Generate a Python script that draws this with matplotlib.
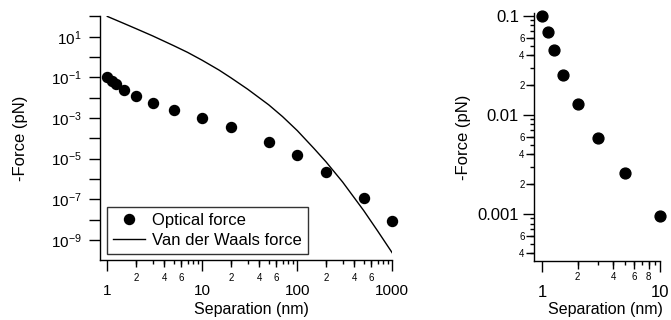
import matplotlib
matplotlib.use('Agg')
import matplotlib.pyplot as plt
from matplotlib.ticker import FixedLocator, NullFormatter, NullLocator

plt.rcParams['font.family'] = ['Liberation Sans', 'DejaVu Sans']
plt.rcParams['mathtext.fontset'] = 'custom'
plt.rcParams['mathtext.rm'] = 'Liberation Sans'
plt.rcParams['mathtext.it'] = 'Liberation Sans:italic'
plt.rcParams['axes.linewidth'] = 1.0

# data
separation = [1, 1.12, 1.25, 1.5, 2, 3, 5, 10, 20, 50, 100, 200, 500, 1000]
optical_force = [0.1, 0.068, 0.045, 0.025, 0.0128, 0.0058, 0.0026, 0.00095,
                 3.6e-4, 6.9e-5, 1.6e-5, 2.2e-6, 1.1e-7, 8.7e-9]

vdw_separation = [1, 1.5, 2, 3, 5, 7, 10, 15, 20, 30, 50, 70, 100, 150, 200, 300, 500, 700, 1000]
vdw_force = [100, 44.7, 25.1, 11.0, 3.63, 1.70, 0.69, 0.229, 0.0955, 0.0263, 0.00447,
             0.00117, 2.4e-4, 3.16e-5, 7.1e-6, 7.1e-7, 2.8e-8, 2.8e-9, 2.3e-10]

# tick values / labels
left_xmajor = [1, 10, 100, 1000]
left_xmajor_labels = ['1', '10', '100', '1000']
left_xminor_labeled = [2, 4, 6, 20, 40, 60, 200, 400, 600]
left_xminor_labels = ['2', '4', '6', '2', '4', '6', '2', '4', '6']
left_ymajor = [1e-9, 1e-7, 1e-5, 1e-3, 1e-1, 1e1]
left_ymajor_labels = [r'$\mathregular{10^{-9}}$', r'$\mathregular{10^{-7}}$', r'$\mathregular{10^{-5}}$',
                      r'$\mathregular{10^{-3}}$', r'$\mathregular{10^{-1}}$', r'$\mathregular{10^{1}}$']
left_yminor = [1e-8, 1e-6, 1e-4, 1e-2, 1e0, 1e2]

right_xmajor = [1, 10]
right_xmajor_labels = ['1', '10']
right_xminor_labeled = [2, 4, 6, 8]
right_xminor_labels = ['2', '4', '6', '8']
right_ymajor = [0.001, 0.01, 0.1]
right_ymajor_labels = ['0.001', '0.01', '0.1']
right_yminor_labeled = [4e-4, 6e-4, 2e-3, 4e-3, 6e-3, 0.02, 0.04, 0.06]
right_yminor_labels = ['4', '6', '2', '4', '6', '2', '4', '6']

def decade_minors(decades):
    out = []
    for d in decades:
        for k in range(2, 10):
            out.append(k * d)
    return out

fig = plt.figure(figsize=(6.71, 3.2), dpi=100)

# ---------------- left panel ----------------
ax1 = fig.add_axes([100 / 671, 1 - 260.3 / 320, 292.3 / 671, 243.9 / 320])
ax1.set_xscale('log')
ax1.set_yscale('log')
ax1.plot(separation, optical_force, 'o', color='black', ms=7.2, clip_on=False,
         label='Optical force')
ax1.plot(vdw_separation, vdw_force, '-', color='black', lw=1.0, label='Van der Waals force')
ax1.set_xlim(0.838, 1000)
ax1.set_ylim(1e-10, 1e2)
for s in ['top', 'right']:
    ax1.spines[s].set_visible(False)

ax1.xaxis.set_major_locator(FixedLocator(left_xmajor))
ax1.set_xticklabels(left_xmajor_labels)
ax1.xaxis.set_minor_locator(FixedLocator(decade_minors([1, 10, 100])))
ax1.xaxis.set_minor_formatter(NullFormatter())
ax1.tick_params(axis='x', which='major', direction='out', length=8, width=1, labelsize=11, pad=9)
ax1.tick_params(axis='x', which='minor', direction='out', length=3, width=1)

ax1.yaxis.set_major_locator(FixedLocator(left_ymajor))
ax1.set_yticklabels(left_ymajor_labels)
ax1.yaxis.set_minor_locator(FixedLocator(left_yminor))
ax1.yaxis.set_minor_formatter(NullFormatter())
ax1.tick_params(axis='y', which='major', direction='out', length=8, width=1, labelsize=11, pad=5)
ax1.tick_params(axis='y', which='minor', direction='out', length=8, width=1)

sec1 = ax1.secondary_xaxis('bottom')
sec1.set_xticks(left_xminor_labeled, labels=left_xminor_labels)
sec1.xaxis.set_minor_locator(NullLocator())
sec1.tick_params(axis='x', direction='out', length=5, width=1, labelsize=7, pad=4)
sec1.spines['bottom'].set_visible(False)

ax1.set_xlabel('Separation (nm)', fontsize=11.5)
ax1.xaxis.set_label_coords(0.517, -0.172)
ax1.xaxis.label.set_va('top')
ax1.set_ylabel('-Force (pN)', fontsize=12)
ax1.yaxis.set_label_coords(-0.245, 0.5)

leg = ax1.legend(loc='lower left', bbox_to_anchor=(0.023, 0.026), borderaxespad=0,
                 fontsize=12, frameon=True, fancybox=False, numpoints=1,
                 handlelength=1.9, handletextpad=0.45, borderpad=0.38, labelspacing=0.28)
leg.get_frame().set_edgecolor('black')
leg.get_frame().set_linewidth(1.0)

# ---------------- right panel ----------------
ax2 = fig.add_axes([534.3 / 671, 1 - 261 / 320, 125.7 / 671, 248 / 320])
ax2.set_xscale('log')
ax2.set_yscale('log')
sub_x = [x for x in separation if x <= 10]
sub_y = [y for x, y in zip(separation, optical_force) if x <= 10]
ax2.plot(sub_x, sub_y, 'o', color='black', ms=7.8, clip_on=False)
ax2.set_xlim(0.855, 10)
ax2.set_ylim(3.35e-4, 0.1065)
for s in ['top', 'right']:
    ax2.spines[s].set_visible(False)

ax2.xaxis.set_major_locator(FixedLocator(right_xmajor))
ax2.set_xticklabels(right_xmajor_labels)
ax2.xaxis.set_minor_locator(FixedLocator(decade_minors([1])))
ax2.xaxis.set_minor_formatter(NullFormatter())
ax2.tick_params(axis='x', which='major', direction='out', length=8, width=1, labelsize=12, pad=9)
ax2.tick_params(axis='x', which='minor', direction='out', length=3, width=1)

ax2.yaxis.set_major_locator(FixedLocator(right_ymajor))
ax2.set_yticklabels(right_ymajor_labels)
ax2.yaxis.set_minor_locator(FixedLocator([v for v in decade_minors([1e-4, 1e-3, 1e-2]) if v >= 3.3e-4]))
ax2.yaxis.set_minor_formatter(NullFormatter())
ax2.tick_params(axis='y', which='major', direction='out', length=8, width=1, labelsize=12, pad=3)
ax2.tick_params(axis='y', which='minor', direction='out', length=3, width=1)

sec2x = ax2.secondary_xaxis('bottom')
sec2x.set_xticks(right_xminor_labeled, labels=right_xminor_labels)
sec2x.xaxis.set_minor_locator(NullLocator())
sec2x.tick_params(axis='x', direction='out', length=6, width=1, labelsize=7, pad=2)
sec2x.spines['bottom'].set_visible(False)

sec2y = ax2.secondary_yaxis('left')
sec2y.set_yticks(right_yminor_labeled, labels=right_yminor_labels)
sec2y.yaxis.set_minor_locator(NullLocator())
sec2y.tick_params(axis='y', direction='out', length=5.5, width=1, labelsize=7, pad=1.5)
sec2y.spines['left'].set_visible(False)

ax2.set_xlabel('Separation (nm)', fontsize=11.5)
ax2.xaxis.set_label_coords(0.562, -0.166)
ax2.xaxis.label.set_va('top')
ax2.set_ylabel('-Force (pN)', fontsize=12)
ax2.yaxis.set_label_coords(-0.50, 0.5)

fig.savefig('out.png', dpi=100)
